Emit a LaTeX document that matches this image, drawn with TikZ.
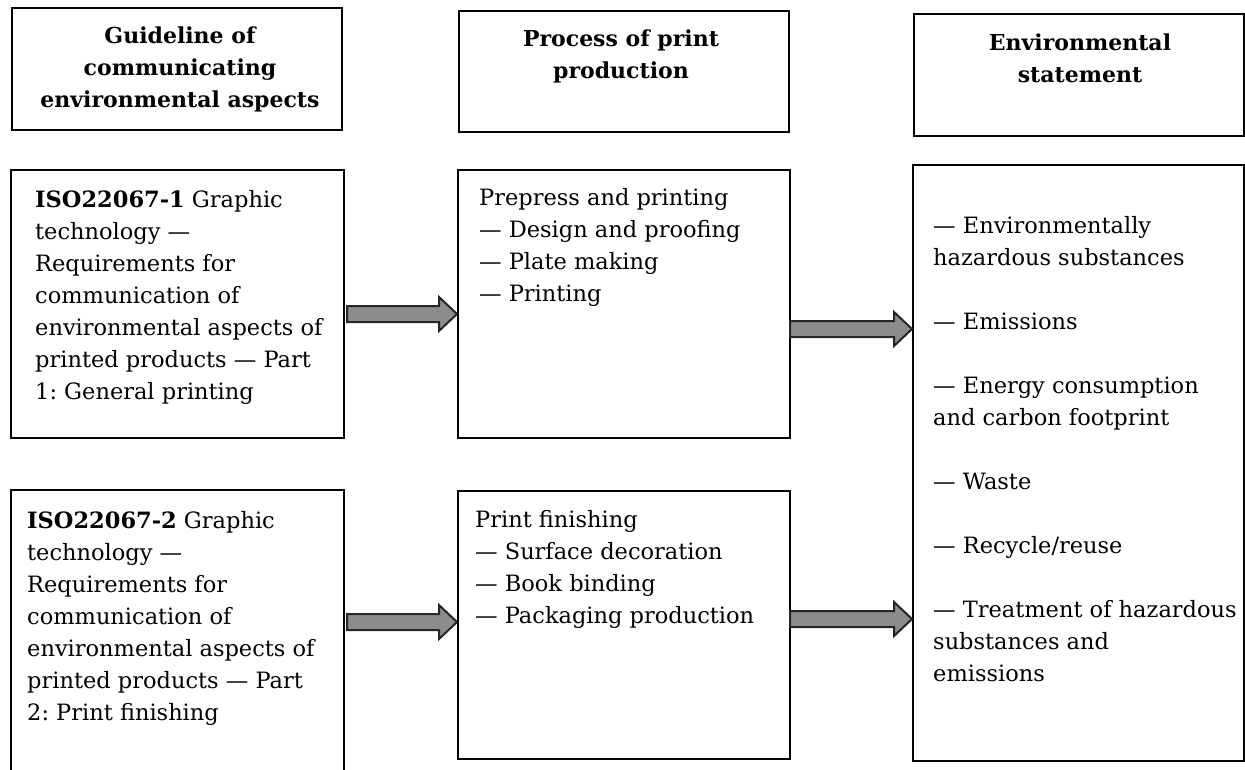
\documentclass[tikz,border=0pt]{standalone}
\usepackage{fontspec}
\setmainfont{DejaVu Serif}
\usetikzlibrary{calc}
\frenchspacing
\tikzset{
  box/.style={draw=black, line width=2pt, fill=white, anchor=north west, inner sep=0pt, outer sep=0pt},
  bodytext/.style={anchor=base west, inner sep=0pt, font=\fontsize{22.5}{32}\selectfont},
  headtext/.style={anchor=base, inner sep=0pt, font=\bfseries\fontsize{22}{32}\selectfont},
  fatarrow/.style={draw=black!85, fill=black!45, line width=2pt, line join=miter},
}
\newcommand\fatarr[4]{%
  \draw[fatarrow] let \p1=(#1.east), \p2=(#2.west) in
   (\x1+#4, -#3pt+8pt) -- (\x2-19pt,-#3pt+8pt) -- (\x2-19pt,-#3pt+17pt) -- (\x2-1pt,-#3pt)
   -- (\x2-19pt,-#3pt-17pt) -- (\x2-19pt,-#3pt-8pt) -- (\x1+#4,-#3pt-8pt) -- cycle;}
\begin{document}
\begin{tikzpicture}[x=1pt,y=-1pt]
\useasboundingbox (0,0) rectangle (1245,769);
\clip (0,0) rectangle (1245,769);
\fill[white] (0,0) rectangle (1245,769);
% header boxes
\node[box, minimum width=330pt, minimum height=122pt] (A) at (12,8) {};
\node[box, minimum width=330pt, minimum height=121pt] (B) at (459,11) {};
\node[box, minimum width=330pt, minimum height=122pt] (C) at (914,14) {};
% content boxes
\node[box, minimum width=333pt, minimum height=268pt] (D) at (11,170) {};
\node[box, minimum width=332pt, minimum height=268pt] (E) at (458,170) {};
\node[box, minimum width=331pt, minimum height=596pt] (F) at (913,165) {};
\node[box, minimum width=333pt, minimum height=300pt] (G) at (11,490) {};
\node[box, minimum width=332pt, minimum height=268pt] (H) at (458,491) {};
% headings
\node[headtext] (At) at (180,43) {\parbox[t]{320pt}{\centering Guideline of\\communicating\\environmental aspects}};
\node[headtext] (Bt) at (621,46) {\parbox[t]{320pt}{\centering Process of print\\production}};
\node[headtext] (Ct) at (1080,50) {\parbox[t]{320pt}{\centering Environmental\\statement}};
% body texts
\node[bodytext] (Dt) at (35,207) {\parbox[t]{305pt}{\raggedright\textbf{ISO22067-1} Graphic\\technology —\\Requirements for\\communication of\\environmental aspects of\\printed products — Part\\1: General printing}};
\node[bodytext] (Gt) at (27,528) {\parbox[t]{310pt}{\raggedright\textbf{ISO22067-2} Graphic\\technology —\\Requirements for\\communication of\\environmental aspects of\\printed products — Part\\2: Print finishing}};
\node[bodytext] (Et) at (479,205) {\parbox[t]{305pt}{\raggedright Prepress and printing\\— Design and proofing\\— Plate making\\— Printing}};
\node[bodytext] (Ht) at (475,527) {\parbox[t]{310pt}{\raggedright Print finishing\\— Surface decoration\\— Book binding\\— Packaging production}};
\node[bodytext] (Ft) at (933,233) {\parbox[t]{310pt}{\raggedright — Environmentally\\hazardous substances\\[32pt]— Emissions\\[32pt]— Energy consumption\\and carbon footprint\\[32pt]— Waste\\[32pt]— Recycle/reuse\\[32pt]— Treatment of hazardous\\substances and\\emissions}};
% arrows
\fatarr{D}{E}{314}{3pt}
\fatarr{E}{F}{329}{0pt}
\fatarr{G}{H}{622}{3pt}
\fatarr{H}{F}{619}{0pt}
\end{tikzpicture}
\end{document}
